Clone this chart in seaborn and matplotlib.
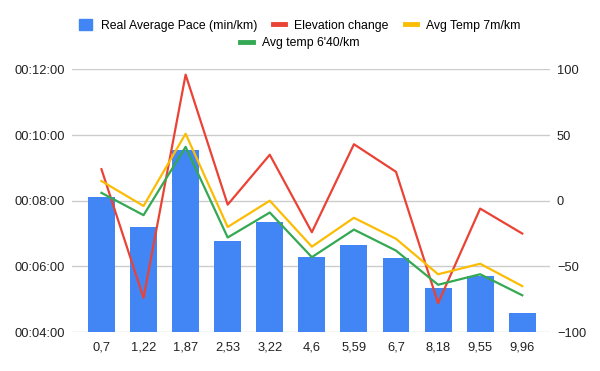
import numpy as np
import matplotlib
matplotlib.use('Agg')
import matplotlib.pyplot as plt
import matplotlib.ticker as mticker
from matplotlib.lines import Line2D
from matplotlib.patches import Patch
import seaborn as sns
import pandas as pd

# distance markers (km) on the x axis
km = ['0,7', '1,22', '1,87', '2,53', '3,22', '4,6', '5,59', '6,7', '8,18', '9,55', '9,96']
# real average pace, mm:ss per km
pace = ['08:07', '07:12', '09:33', '06:46', '07:21', '06:17', '06:39', '06:15', '05:20', '05:42', '04:35']
# right axis series
elevation = [24, -74, 96, -3, 35, -24, 43, 22, -78, -6, -25]
temp_7 = [15, -4, 51, -20, 0, -35, -13, -29, -56, -48, -65]
temp_640 = [6, -11, 41, -28, -9, -43, -22, -38, -64, -56, -72]

pace_min = [int(p.split(':')[0]) + int(p.split(':')[1]) / 60 for p in pace]
df = pd.DataFrame({'km': km, 'pace': pace_min, 'elev': elevation,
                   't7': temp_7, 't640': temp_640})

blue, red, yellow, green = '#4285F4', '#EA4335', '#FBBC04', '#34A853'
plt.rcParams['font.family'] = ['Liberation Sans', 'DejaVu Sans']

fig = plt.figure(figsize=(6, 3.71), dpi=100)
ax = fig.add_axes([0.12, 0.105, 0.7967, 0.708])
ax2 = ax.twinx()

sns.barplot(data=df, x='km', y='pace', color=blue, width=0.64, saturation=1, ax=ax, zorder=2)
ax.set_ylim(4, 12)
ax.set_yticks([4, 6, 8, 10, 12])
ax.yaxis.set_major_formatter(mticker.FuncFormatter(lambda v, p: '00:%02d:00' % int(round(v))))
ax.grid(axis='y', color='#cccccc', lw=1)
ax.set_axisbelow(True)
ax.set_xlim(-0.7, 10.66)

sns.lineplot(data=df, x='km', y='elev', color=red, lw=1.6, sort=False, ax=ax2)
sns.lineplot(data=df, x='km', y='t7', color=yellow, lw=1.6, sort=False, ax=ax2)
sns.lineplot(data=df, x='km', y='t640', color=green, lw=1.6, sort=False, ax=ax2)
ax2.set_ylim(-100, 100)
ax2.set_yticks([-100, -50, 0, 50, 100])
ax2.set_xlim(-0.7, 10.66)

for a in (ax, ax2):
    for s in a.spines.values():
        s.set_visible(False)
    a.set_xlabel('')
    a.set_ylabel('')
    a.tick_params(length=0, labelsize=9.3, colors='#222222')
ax.tick_params(axis='y', pad=5)
ax.tick_params(axis='x', pad=7)
ax2.tick_params(axis='y', pad=5)

h1 = [Patch(color=blue), Line2D([], [], color=red, lw=3.5), Line2D([], [], color=yellow, lw=3.5)]
l1 = ['Real Average Pace (min/km)', 'Elevation change', 'Avg Temp 7m/km']
fig.legend(h1, l1, loc='center', bbox_to_anchor=(0.5, 1 - 25.5 / 371), ncol=3, frameon=False,
           fontsize=8.8, handlelength=1.0, handleheight=1.0, columnspacing=1.3, handletextpad=0.75)
fig.legend([Line2D([], [], color=green, lw=3.5)], ["Avg temp 6'40/km"], loc='center',
           bbox_to_anchor=(0.5, 1 - 43 / 371), frameon=False, fontsize=8.8, handlelength=1.0,
           handletextpad=0.75)

fig.savefig('out.png', dpi=100)
